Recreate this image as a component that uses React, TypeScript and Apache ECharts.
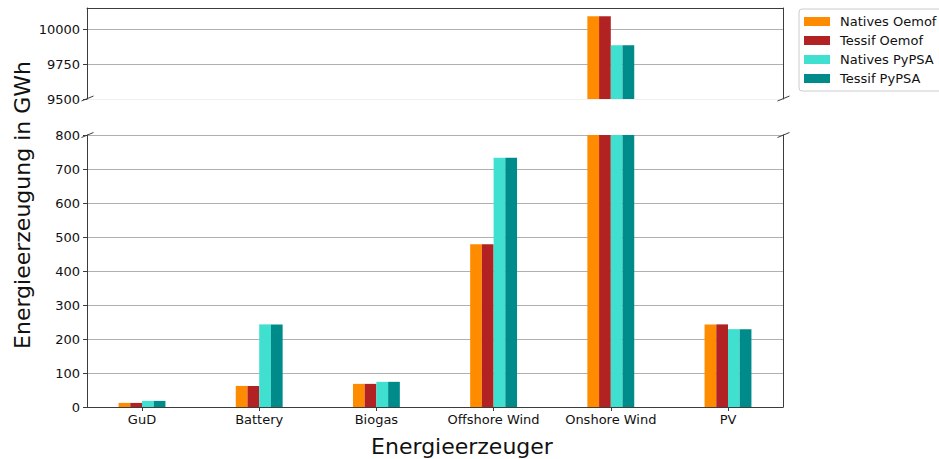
import React, { useEffect, useRef } from "react";
import * as echarts from "echarts";

// Generator categories and annual production (GWh) per model
const categories = ["GuD", "Battery", "Biogas", "Offshore Wind", "Onshore Wind", "PV"];
const seriesNames = ["Natives Oemof", "Tessif Oemof", "Natives PyPSA", "Tessif PyPSA"];
const nativesOemof = [12, 62, 68, 479, 10091, 243];
const tessifOemof = [12, 62, 68, 479, 10091, 243];
const nativesPypsa = [18, 243, 74, 733, 9884, 229];
const tessifPypsa = [18, 243, 74, 733, 9884, 229];
const seriesValues = [nativesOemof, tessifOemof, nativesPypsa, tessifPypsa];
const colors = ["#FF8C00", "#B22222", "#40E0D0", "#008B8B"];

// Broken value axis: upper and lower ranges
const upperRange = { min: 9500, max: 10150, interval: 250 };
const upperTicks = [9500, 9750, 10000];
const lowerRange = { min: 0, max: 800, interval: 100 };

const FONT = "DejaVu Sans";
const SPINE = "#3c3c3c";
const GRIDLINE = "#b0b0b0";

export default function App() {
  const ref = useRef<HTMLDivElement>(null);

  useEffect(() => {
    if (!ref.current) return;
    const chart = echarts.init(ref.current, null, { renderer: "svg" });

    // frame grids (spines, gridlines, y labels) and bar grids (category layout)
    const frameLeft = 87;
    const frameWidth = 696;
    const barLeft = 83.4;
    const barWidthPx = 703.2;
    const topTop = 8;
    const topHeight = 91;
    const botTop = 135;
    const botHeight = 272;

    const spineLine = { show: true, lineStyle: { color: SPINE, width: 1 } };
    const plain = (v: number) => String(v);

    const bars: any[] = [];
    seriesValues.forEach((vals, i) => {
      [2, 3].forEach((g) => {
        bars.push({
          name: seriesNames[i],
          type: "bar",
          xAxisIndex: g,
          yAxisIndex: g + 2,
          data: vals,
          barWidth: "10%",
          barGap: "0%",
          clip: true,
          itemStyle: { color: colors[i] },
          emphasis: { disabled: true },
        });
      });
    });

    const brk = (x: number, y: number) => ({
      type: "line",
      shape: { x1: x - 6, y1: y + 2.5, x2: x + 6, y2: y - 2.5 },
      style: { stroke: SPINE, lineWidth: 1 },
      z: 100,
    });

    chart.setOption({
      animation: false,
      textStyle: { fontFamily: FONT },
      grid: [
        { left: frameLeft, top: topTop, width: frameWidth, height: topHeight },
        { left: frameLeft, top: botTop, width: frameWidth, height: botHeight },
        { left: barLeft, top: topTop, width: barWidthPx, height: topHeight },
        { left: barLeft, top: botTop, width: barWidthPx, height: botHeight },
      ],
      xAxis: [
        {
          gridIndex: 0, type: "value", min: 0, max: 1, position: "top",
          axisLine: spineLine, axisTick: { show: false }, axisLabel: { show: false }, splitLine: { show: false },
        },
        {
          gridIndex: 1, type: "value", min: 0, max: 1, position: "bottom",
          axisLine: spineLine, axisTick: { show: false }, axisLabel: { show: false }, splitLine: { show: false },
        },
        { gridIndex: 2, type: "category", data: categories, show: false },
        {
          gridIndex: 3, type: "category", data: categories, position: "bottom",
          axisLine: { show: false },
          axisTick: { show: true, alignWithLabel: true, interval: 0, length: 4, lineStyle: { color: SPINE } },
          axisLabel: { color: "#111", fontSize: 13, fontFamily: FONT, margin: 6, interval: 0 },
          splitLine: { show: false },
        },
      ],
      yAxis: [
        {
          gridIndex: 0, type: "value", position: "left", ...upperRange,
          axisLine: spineLine,
          axisTick: { show: true, length: 4, lineStyle: { color: SPINE }, customValues: upperTicks },
          axisLabel: { color: "#111", fontSize: 13, fontFamily: FONT, margin: 7, customValues: upperTicks, formatter: plain },
          splitLine: { show: true, lineStyle: { color: ["#f0f0f0", GRIDLINE, GRIDLINE, "#f0f0f0"], width: 1 } },
        },
        {
          gridIndex: 0, type: "value", position: "right", ...upperRange,
          axisLine: spineLine, axisTick: { show: false }, axisLabel: { show: false }, splitLine: { show: false },
        },
        {
          gridIndex: 1, type: "value", position: "left", ...lowerRange,
          axisLine: spineLine,
          axisTick: { show: true, length: 4, lineStyle: { color: SPINE } },
          axisLabel: { color: "#111", fontSize: 13, fontFamily: FONT, margin: 7, formatter: plain },
          splitLine: { show: true, lineStyle: { color: GRIDLINE, width: 1 } },
        },
        {
          gridIndex: 1, type: "value", position: "right", ...lowerRange,
          axisLine: spineLine, axisTick: { show: false }, axisLabel: { show: false }, splitLine: { show: false },
        },
        { gridIndex: 2, type: "value", ...upperRange, show: false, splitLine: { show: false } },
        { gridIndex: 3, type: "value", ...lowerRange, show: false, splitLine: { show: false } },
      ],
      legend: {
        data: seriesNames,
        orient: "vertical",
        left: 799,
        top: 9,
        padding: [6, 30, 6, 5],
        itemWidth: 26,
        itemHeight: 9,
        itemGap: 6,
        itemStyle: { borderWidth: 0 },
        icon: "rect",
        backgroundColor: "#fff",
        borderColor: "#cccccc",
        borderWidth: 1,
        borderRadius: 3,
        textStyle: { fontFamily: FONT, fontSize: 13, color: "#111", padding: [0, 0, 0, 5], lineHeight: 13 },
      },
      graphic: [
        brk(87.5, 98.5), brk(783.5, 98.5), brk(87.5, 135), brk(783.5, 135),
        {
          type: "text", x: 22, y: 205, rotation: Math.PI / 2,
          style: { text: "Energieerzeugung in GWh", font: `22px '${FONT}'`, fill: "#111", align: "center", verticalAlign: "middle" },
        },
        {
          type: "text", x: 462, y: 446,
          style: { text: "Energieerzeuger", font: `22px '${FONT}'`, fill: "#111", align: "center", verticalAlign: "middle" },
        },
      ],
      series: bars,
    });

    return () => chart.dispose();
  }, []);

  return <div ref={ref} style={{ position: "fixed", left: 0, top: 0, width: 939, height: 459, background: "#fff" }} />;
}
